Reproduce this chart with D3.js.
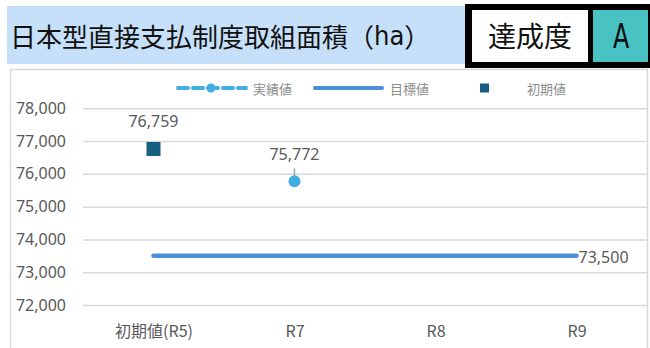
<!DOCTYPE html>
<html>
<head>
<meta charset="utf-8">
<script src="https://cdn.jsdelivr.net/npm/d3@7"></script>
<style>
  html, body { margin: 0; padding: 0; background: #fff; }
  svg { display: block; }
</style>
</head>
<body>
<svg id="chart" width="650" height="348"></svg>
<script>
// Chart data
const categories = ["初期値(R5)", "R7", "R8", "R9"];
const actualValues = [null, 75772, null, null];   // 実績値
const targetValues = [73500, 73500, 73500, 73500]; // 目標値
const initialValues = [76759, null, null, null];  // 初期値
const yTicks = [72000, 73000, 74000, 75000, 76000, 77000, 78000];
const titleMain = "日本型直接支払制度取組面積";
const titleUnit = "ha";
const gradeLabel = "達成度";
const gradeValue = "A";

const svg = d3.select("#chart");
const jp = "'Noto Sans CJK JP', 'Noto Sans', sans-serif";
const num = "'Noto Sans', 'Open Sans', sans-serif";
const narrow = "'Liberation Sans Narrow', 'DejaVu Sans Condensed', 'Noto Sans', sans-serif";

const colActual = "#41ade0";
const colTarget = "#4a8fd8";
const colInitial = "#175e80";
const grid = "#d9d9d9";
const textCol = "#595959";

// Header: title band
svg.append("rect").attr("x", 7).attr("y", 6).attr("width", 460).attr("height", 58)
  .attr("fill", "#c6e0fa");
const title = svg.append("text").attr("x", 10).attr("y", 35).attr("dominant-baseline", "central")
  .attr("font-family", jp).attr("font-size", 26).attr("fill", "#111");
title.append("tspan").text(titleMain + "（");
title.append("tspan").attr("font-family", narrow).attr("font-size", 27).text(titleUnit);
title.append("tspan").text("）");

// Header: grade box
svg.append("rect").attr("x", 465).attr("y", 4).attr("width", 185).attr("height", 64).attr("fill", "#000");
svg.append("rect").attr("x", 472).attr("y", 10).attr("width", 116).attr("height", 52).attr("fill", "#fff");
svg.append("rect").attr("x", 593).attr("y", 10).attr("width", 55).attr("height", 52).attr("fill", "#48c2c2");
svg.append("text").attr("x", 530).attr("y", 35).attr("text-anchor", "middle").attr("dominant-baseline", "central")
  .attr("font-family", jp).attr("font-size", 28).attr("fill", "#111").text(gradeLabel);
svg.append("text").attr("transform", "translate(621,36) scale(0.8,1)")
  .attr("text-anchor", "middle").attr("dominant-baseline", "central")
  .attr("font-family", narrow).attr("font-size", 33).attr("fill", "#111").text(gradeValue);

// Chart frame
svg.append("rect").attr("x", 10.5).attr("y", 69.5).attr("width", 637).attr("height", 290)
  .attr("fill", "#fff").attr("stroke", grid).attr("stroke-width", 1.5);

// Scales
const plotL = 83, plotR = 647;
const x = d3.scalePoint().domain(categories).range([plotL, plotR]).padding(0.5);
const y = d3.scaleLinear().domain([72000, 78000]).range([305, 108.3]);

// Gridlines and y-axis labels
const yAxis = d3.axisLeft(y).tickValues(yTicks).tickSize(-(plotR - plotL)).tickPadding(17)
  .tickFormat(d3.format(","));
const gy = svg.append("g").attr("transform", `translate(${plotL},0)`).call(yAxis);
gy.select(".domain").remove();
gy.selectAll(".tick line").attr("stroke", grid).attr("stroke-width", 1.5);
gy.selectAll(".tick text").attr("font-family", num).attr("font-size", 16).attr("fill", textCol);

// x-axis labels
const xAxis = d3.axisBottom(x).tickSize(0).tickPadding(0);
const gx = svg.append("g").attr("transform", "translate(0,322)").call(xAxis);
gx.select(".domain").remove();
gx.selectAll(".tick text").attr("font-family", jp).attr("font-size", 16).attr("fill", textCol)
  .attr("dy", "0.35em").attr("y", 9);

// Target line
const line = d3.line().defined(d => d.v != null).x(d => x(d.c)).y(d => y(d.v));
const targetPts = categories.map((c, i) => ({ c, v: targetValues[i] }));
svg.append("path").datum(targetPts).attr("d", line).attr("fill", "none")
  .attr("stroke", colTarget).attr("stroke-width", 4.5).attr("stroke-linecap", "round");
const lastT = targetPts[targetPts.length - 1];
svg.append("text").attr("x", x(lastT.c) + 2).attr("y", y(lastT.v) + 1).attr("dominant-baseline", "central")
  .attr("font-family", num).attr("font-size", 16).attr("fill", textCol).text(d3.format(",")(lastT.v));

// Actual series (dashed line with markers and leader-lined labels)
const actualPts = categories.map((c, i) => ({ c, v: actualValues[i] }));
svg.append("path").datum(actualPts).attr("d", line).attr("fill", "none")
  .attr("stroke", colActual).attr("stroke-width", 4).attr("stroke-dasharray", "10,5");
actualPts.filter(d => d.v != null).forEach(d => {
  const cx = x(d.c), cy = y(d.v);
  svg.append("line").attr("x1", cx).attr("x2", cx).attr("y1", cy - 13).attr("y2", cy - 2)
    .attr("stroke", "#a6a6a6").attr("stroke-width", 1.5);
  svg.append("circle").attr("cx", cx).attr("cy", cy).attr("r", 6).attr("fill", colActual);
  svg.append("text").attr("x", cx).attr("y", cy - 27).attr("text-anchor", "middle")
    .attr("dominant-baseline", "central").attr("font-family", num).attr("font-size", 16)
    .attr("fill", textCol).text(d3.format(",")(d.v));
});

// Initial value marker
categories.map((c, i) => ({ c, v: initialValues[i] })).filter(d => d.v != null).forEach(d => {
  const cx = x(d.c), cy = y(d.v);
  svg.append("rect").attr("x", cx - 7).attr("y", cy - 7).attr("width", 14).attr("height", 14)
    .attr("fill", colInitial);
  svg.append("text").attr("x", cx).attr("y", cy - 28).attr("text-anchor", "middle")
    .attr("dominant-baseline", "central").attr("font-family", num).attr("font-size", 16)
    .attr("fill", textCol).text(d3.format(",")(d.v));
});

// Legend
const legY = 88;
const leg = svg.append("g").attr("font-family", jp).attr("font-size", 13).attr("fill", "#8c8c8c");
leg.append("line").attr("x1", 178).attr("x2", 246).attr("y1", legY).attr("y2", legY)
  .attr("stroke", colActual).attr("stroke-width", 4).attr("stroke-dasharray", "10,5")
  .attr("stroke-linecap", "round");
leg.append("circle").attr("cx", 211).attr("cy", legY).attr("r", 4.5).attr("fill", colActual);
leg.append("text").attr("x", 253).attr("y", legY).attr("dominant-baseline", "central").text("実績値");
leg.append("line").attr("x1", 315).attr("x2", 382).attr("y1", legY).attr("y2", legY)
  .attr("stroke", colTarget).attr("stroke-width", 4).attr("stroke-linecap", "round");
leg.append("text").attr("x", 390).attr("y", legY).attr("dominant-baseline", "central").text("目標値");
leg.append("rect").attr("x", 480).attr("y", legY - 4.5).attr("width", 9).attr("height", 9).attr("fill", colInitial);
leg.append("text").attr("x", 527).attr("y", legY).attr("dominant-baseline", "central").text("初期値");
</script>
</body>
</html>
